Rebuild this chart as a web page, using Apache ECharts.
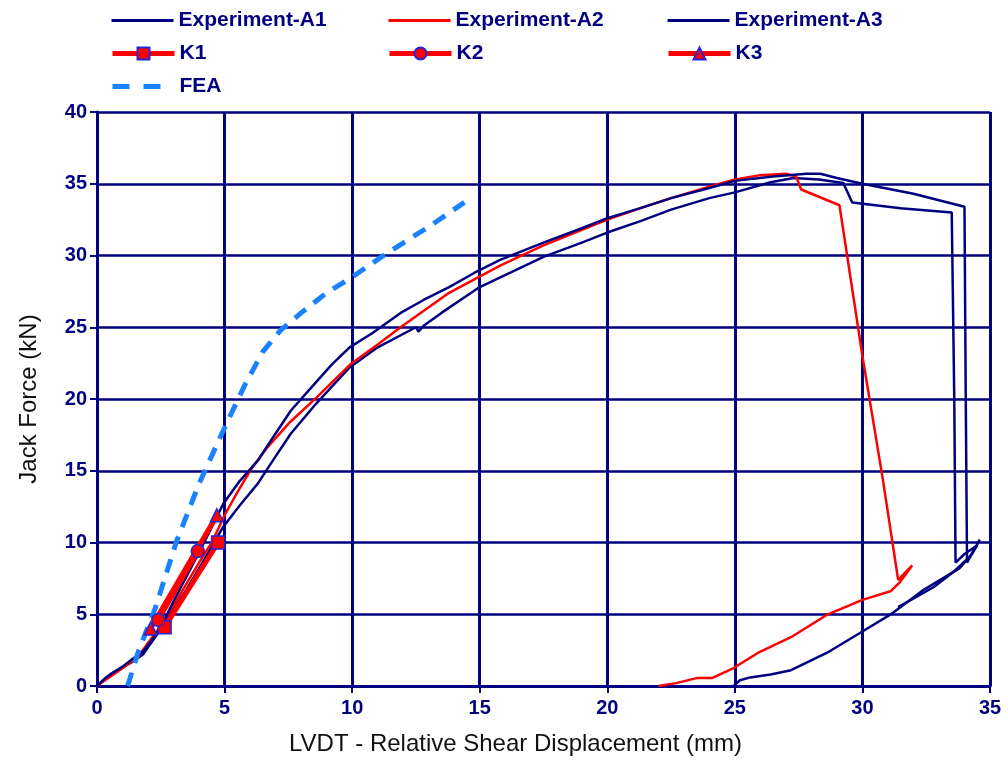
<!DOCTYPE html>
<html>
<head>
<meta charset="utf-8">
<title>Jack Force vs LVDT</title>
<script src="https://cdn.jsdelivr.net/npm/echarts@6/dist/echarts.min.js"></script>
<style>
  html, body { margin: 0; padding: 0; background: #fff; }
  #chart { width: 1008px; height: 765px; }
</style>
</head>
<body>
<div id="chart"></div>
<script>
// [displacement (mm), force (kN)]
const expA1 = [
  [0, 0], [0.3, 0.5], [0.6, 0.9], [1.0, 1.3], [1.4, 1.7], [1.8, 2.2], [2.2, 3.2], [2.6, 4.2],
  [2.9, 5.1], [3.5, 6.7], [4.2, 8.8], [4.95, 11.1], [5.6, 12.6], [6.3, 14.1], [7.0, 16.0],
  [7.6, 17.6], [8.6, 19.7], [9.9, 22.2], [11.0, 23.6], [12.5, 25.0], [12.6, 24.7], [12.8, 25.1],
  [13.5, 26.0], [15.0, 27.8], [16.2, 28.8], [17.5, 29.9], [19.0, 30.9], [20.0, 31.6], [21.3, 32.4],
  [22.5, 33.2], [24.0, 34.0], [25.0, 34.4], [26.4, 35.1], [27.3, 35.4], [28.3, 35.3], [29.25, 35.05],
  [29.6, 33.7], [31.5, 33.3], [33.5, 33.0], [33.6, 20.0], [33.65, 8.6], [34.0, 9.2], [34.5, 9.8],
  [34.2, 9.0], [33.6, 8.0], [32.8, 6.9], [31.4, 5.5]
];
const expA2 = [
  [0, 0], [0.4, 0.5], [0.8, 1.0], [1.2, 1.5], [1.6, 2.0], [2.0, 3.0], [2.5, 4.2], [3.0, 5.6],
  [3.5, 7.1], [4.0, 8.6], [4.5, 10.0], [5.0, 11.9], [5.5, 13.5], [6.0, 15.0], [6.66, 16.6],
  [7.57, 18.4], [8.6, 20.1], [9.92, 22.4], [11.0, 23.8], [11.9, 25.0], [13.8, 27.4], [15.8, 29.3],
  [17.5, 30.7], [20.0, 32.5], [21.3, 33.3], [22.5, 34.0], [24.0, 34.8], [25.0, 35.3], [26.0, 35.6],
  [27.0, 35.7], [27.4, 35.5], [27.6, 34.6], [29.1, 33.5], [30.0, 23.0], [30.8, 14.4], [31.4, 7.4],
  [31.95, 8.4], [31.45, 7.2], [31.1, 6.6], [30.0, 6.0], [28.6, 4.95], [27.2, 3.4], [25.9, 2.3],
  [24.95, 1.25], [24.1, 0.55], [23.5, 0.55], [22.7, 0.2], [22.0, 0]
];
const expA3 = [
  [0, 0], [0.3, 0.5], [0.6, 0.9], [1.0, 1.35], [1.4, 1.9], [1.8, 2.4], [2.2, 3.3], [2.5, 4.1],
  [3.0, 5.9], [3.5, 7.6], [4.2, 10.0], [4.95, 12.7], [5.6, 14.3], [6.3, 15.7], [7.0, 17.6],
  [7.6, 19.2], [8.5, 21.0], [9.2, 22.4], [9.9, 23.6], [10.8, 24.6], [11.9, 26.0], [12.8, 26.9],
  [13.8, 27.8], [14.8, 28.8], [15.8, 29.7], [17.5, 30.9], [19.0, 31.9], [20.0, 32.6], [21.3, 33.3],
  [22.5, 34.0], [24.0, 34.7], [25.0, 35.2], [26.5, 35.5], [27.8, 35.7], [28.35, 35.7], [29.0, 35.4],
  [30.0, 35.0], [32.0, 34.3], [34.0, 33.4], [34.05, 20.0], [34.1, 8.6], [34.6, 10.2], [34.3, 9.2],
  [33.8, 8.2], [32.4, 6.7], [31.2, 5.1], [30.0, 3.8], [28.6, 2.3], [27.2, 1.1], [26.4, 0.8],
  [25.6, 0.6], [25.2, 0.4], [24.95, 0]
];
const k1 = [[2.65, 4.1], [4.75, 10.0]];
const k2 = [[2.4, 4.6], [3.95, 9.4]];
const k3 = [[2.1, 4.0], [4.7, 11.9]];
const fea = [
  [1.2, 0], [1.6, 2.3], [2.3, 5.5], [3.1, 10.0], [4.0, 14.1], [5.0, 18.0], [5.8, 21.0],
  [6.5, 23.3], [7.2, 24.8], [8.0, 26.0], [9.0, 27.4], [10.0, 28.5], [11.4, 30.2], [13.0, 32.0],
  [14.4, 33.7]
];
const xTicks = { min: 0, max: 35, interval: 5 };
const yTicks = { min: 0, max: 40, interval: 5 };

const NAVY = "#000080";
const RED = "#ff0000";
const BLUE = "#1a82ff";
const FONT = "Liberation Sans, Arial, sans-serif";

const chart = echarts.init(document.getElementById("chart"));

const expLine = (name, data, color) => ({
  name, type: "line", data, symbol: "none", z: 3,
  lineStyle: { color, width: 2.5 }, itemStyle: { color },
});
const kLine = (name, data, symbol) => ({
  name, type: "line", data, symbol, symbolSize: 13, z: 5,
  lineStyle: { color: RED, width: 5 },
  itemStyle: { color: RED, borderColor: "#2626d9", borderWidth: 1.5 },
});

// one legend per entry so the 3x3 layout lines up; [name, left, top, has marker, line width]
const legendSlots = [
  ["Experiment-A1", 110, 10, false, 3], ["Experiment-A2", 387, 10, false, 3], ["Experiment-A3", 666, 10, false, 3],
  ["K1", 110, 43, true, 5], ["K2", 387, 43, true, 5], ["K3", 666, 43, true, 5],
  ["FEA", 110, 76, false, 5],
];

const option = {
  animation: false,
  backgroundColor: "#fff",
  legend: legendSlots.map(([name, left, top, marker, lw]) => ({
    data: [name], left, top, padding: 0, itemWidth: 62, itemHeight: 15,
    itemStyle: marker ? {} : { opacity: 0 },
    lineStyle: name === "FEA" ? { width: lw, type: [17, 14] } : { width: lw },
    textStyle: { color: NAVY, fontSize: 21, fontWeight: "bold", fontFamily: FONT },
  })),
  grid: { left: 97, right: 18, top: 112, bottom: 79 },
  xAxis: {
    type: "value", ...xTicks,
    name: "LVDT - Relative Shear Displacement (mm)",
    nameLocation: "middle", nameGap: 46,
    nameTextStyle: { color: "#111", fontSize: 24, fontFamily: FONT, padding: [0, 56, 0, 0] },
    axisLine: { lineStyle: { color: NAVY, width: 3 } },
    axisTick: { show: true, length: 7, lineStyle: { color: NAVY, width: 2 } },
    axisLabel: { color: NAVY, fontSize: 20, fontWeight: "bold", fontFamily: FONT, margin: 12 },
    splitLine: { show: true, lineStyle: { color: NAVY, width: 3 } },
  },
  yAxis: {
    type: "value", ...yTicks,
    name: "Jack Force (kN)",
    nameLocation: "middle", nameGap: 56,
    nameTextStyle: { color: "#111", fontSize: 24, fontFamily: FONT },
    axisLine: { show: true, lineStyle: { color: NAVY, width: 3 } },
    axisTick: { show: true, length: 7, lineStyle: { color: NAVY, width: 2 } },
    axisLabel: { color: NAVY, fontSize: 20, fontWeight: "bold", fontFamily: FONT, margin: 10 },
    splitLine: { show: true, lineStyle: { color: NAVY, width: 2.5 } },
  },
  series: [
    expLine("Experiment-A1", expA1, NAVY),
    expLine("Experiment-A2", expA2, RED),
    expLine("Experiment-A3", expA3, NAVY),
    kLine("K1", k1, "rect"),
    kLine("K2", k2, "circle"),
    kLine("K3", k3, "triangle"),
    {
      name: "FEA", type: "line", data: fea, symbol: "none", z: 4,
      lineStyle: { color: BLUE, width: 5, type: [14, 10] },
      itemStyle: { color: BLUE },
    },
  ],
};

chart.setOption(option);
</script>
</body>
</html>
